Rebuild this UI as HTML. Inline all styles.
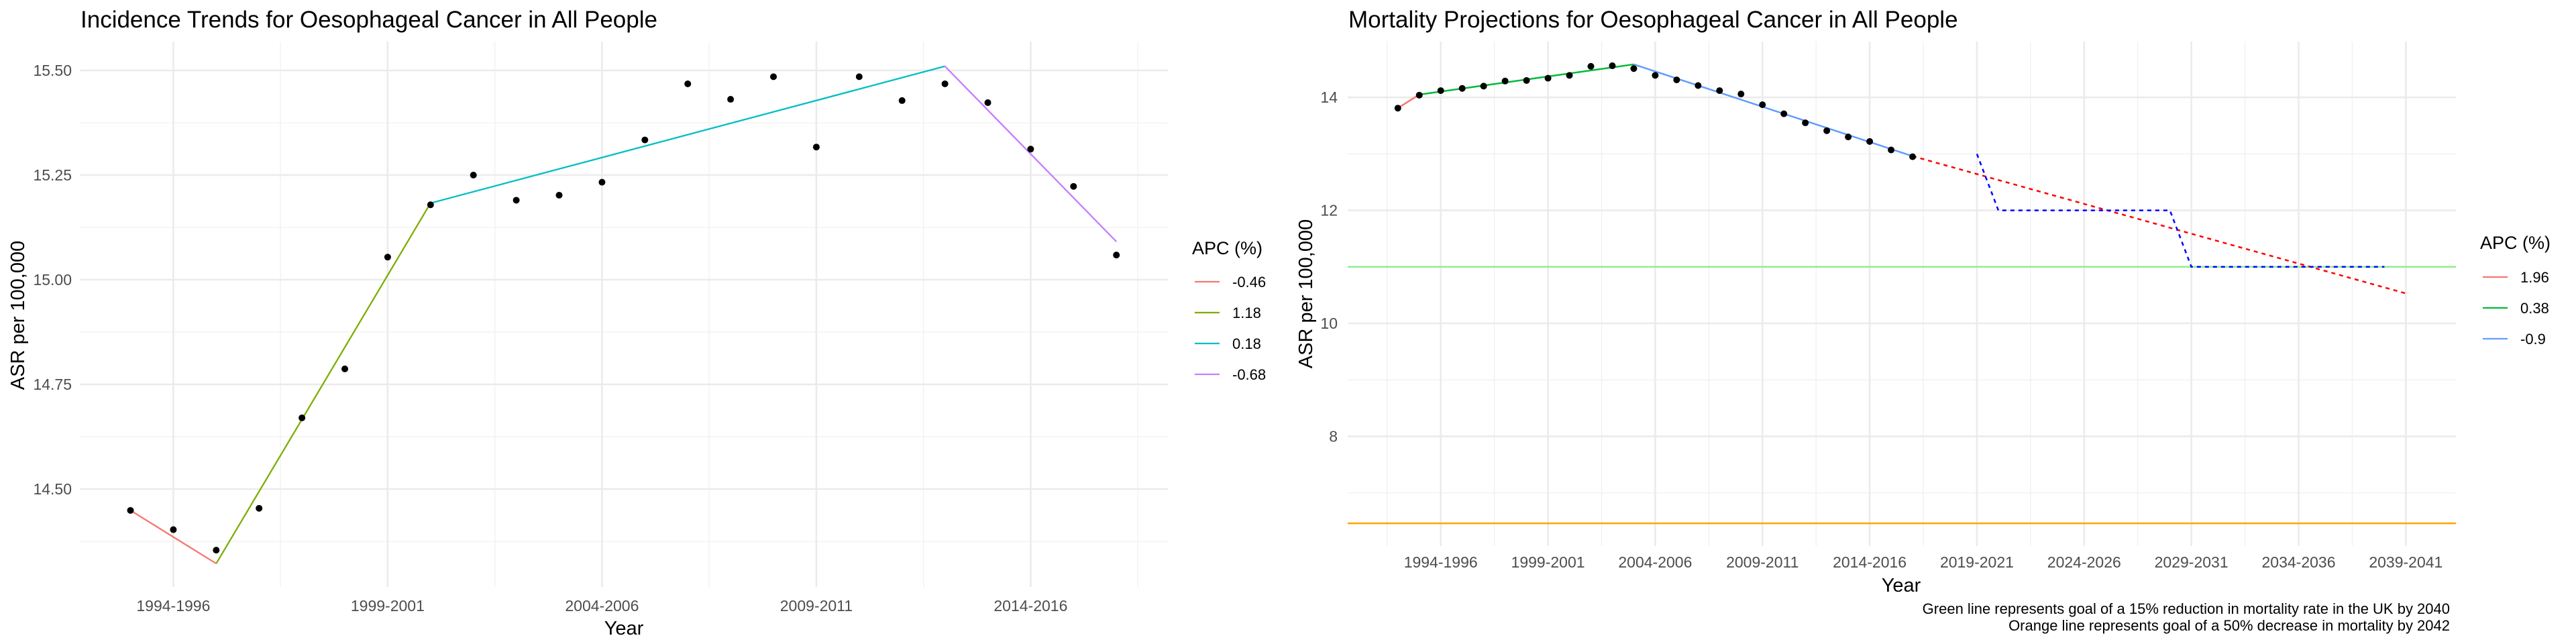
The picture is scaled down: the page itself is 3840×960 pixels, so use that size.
<!DOCTYPE html>
<html><head><meta charset="utf-8">
<style>
html,body{margin:0;padding:0;background:#fff;}
svg{display:block;font-family:"Liberation Sans",Arial,sans-serif;}
</style></head>
<body>
<svg id="chart" width="3840" height="960" viewBox="0 0 3840 960" xmlns="http://www.w3.org/2000/svg">
<rect width="3840" height="960" fill="#fff"/>
<g id="left"></g>
<g id="right"></g>
</svg>
<script>
// ---------- Incidence data ----------
const incStartYears = [1993,1994,1995,1996,1997,1998,1999,2000,2001,2002,2003,2004,2005,2006,2007,2008,2009,2010,2011,2012,2013,2014,2015,2016];
const incValues = [14.449,14.403,14.354,14.454,14.670,14.787,15.054,15.179,15.250,15.190,15.202,15.233,15.334,15.468,15.431,15.485,15.317,15.485,15.428,15.468,15.423,15.312,15.223,15.059];
const incFitYears = [1993,1995,2000,2012,2016];
const incFitValues = [14.449,14.322,15.183,15.510,15.091];
const incApcLabels = ["-0.46","1.18","0.18","-0.68"];
const incColors = ["#F8766D","#7CAE00","#00BFC4","#C77CFF"];
const incYTicks = [14.50,14.75,15.00,15.25,15.50];
const incXTicks = [1994,1999,2004,2009,2014];

// ---------- Mortality data ----------
const morYears = [1992,1993,1994,1995,1996,1997,1998,1999,2000,2001,2002,2003,2004,2005,2006,2007,2008,2009,2010,2011,2012,2013,2014,2015,2016];
const morValues = [13.81,14.04,14.12,14.16,14.20,14.29,14.30,14.34,14.39,14.55,14.56,14.51,14.39,14.31,14.21,14.12,14.06,13.87,13.71,13.55,13.41,13.30,13.22,13.07,12.95];
const morFitYears = [1992,1993,2003,2016];
const morFitValues = [13.81,14.05,14.585,12.96];
const morApcLabels = ["1.96","0.38","-0.9"];
const morColors = ["#F8766D","#00BA38","#619CFF"];
const projYears = [2016,2039];
const projValues = [12.96,10.53];
const targetYears = [2019,2020,2028,2029,2038];
const targetValues = [13.0,12.0,12.0,11.0,11.0];
const greenGoal = [11.0];
const orangeGoal = [6.46];
const morYTicks = [8,10,12,14];
const morXTicks = [1994,1999,2004,2009,2014,2019,2024,2029,2034,2039];

const NS = "http://www.w3.org/2000/svg";
function mk(parent, tag, attrs, text){
  const e = document.createElementNS(NS, tag);
  for (const k in attrs) e.setAttribute(k, attrs[k]);
  if (text !== undefined) e.textContent = text;
  parent.appendChild(e);
  return e;
}

// ---------- Left chart ----------
(function(){
  const g = document.getElementById('left');
  const L=119, R=1741, T=62, B=875;
  const x = yr => 194.5 + (yr-1993)*63.9;
  const y = v => 729 - (v-14.5)*624;
  // minor grid
  for (let v=14.375; v<15.6; v+=0.25){ const l=mk(g,'line',{x1:L,x2:R,y1:y(v),y2:y(v),stroke:'#f0f0f0','stroke-width':1.3});
    
     }
  for (let yr=1991.5; yr<2020; yr+=5){ if(x(yr)<L||x(yr)>R) continue; const l=mk(g,'line',{x1:x(yr),x2:x(yr),y1:T,y2:B,stroke:'#f0f0f0','stroke-width':1.3});
    
     }
  incYTicks.forEach(v=>{
    const l=mk(g,'line',{x1:L,x2:R,y1:y(v),y2:y(v),stroke:'#ebebeb','stroke-width':2.6});
    
    
    const t=mk(g,'text',{x:107,y:y(v)+8,'text-anchor':'end','font-size':23,fill:'#4d4d4d'},v.toFixed(2));
    
    
  });
  incXTicks.forEach(yr=>{
    const l=mk(g,'line',{x1:x(yr),x2:x(yr),y1:T,y2:B,stroke:'#ebebeb','stroke-width':2.6});
    
    
    const t=mk(g,'text',{x:x(yr),y:911,'text-anchor':'middle','font-size':23,fill:'#4d4d4d'},yr+'-'+(yr+2));
    
    
  });
  for (let i=0;i<incFitYears.length-1;i++){
    const l=mk(g,'line',{x1:x(incFitYears[i]),y1:y(incFitValues[i]),x2:x(incFitYears[i+1]),y2:y(incFitValues[i+1]),stroke:incColors[i],'stroke-width':2.3});
    
    
  }
  incStartYears.forEach((yr,i)=>{
    const c=mk(g,'circle',{cx:x(yr),cy:y(incValues[i]),r:5,fill:'#000'});
    
    
  });
  const ti=mk(g,'text',{x:120,y:41,'font-size':35,fill:'#000'},'Incidence Trends for Oesophageal Cancer in All People');
  
  
  const xt=mk(g,'text',{x:930,y:946,'text-anchor':'middle','font-size':29,fill:'#000'},'Year');
  
  
  const yt=mk(g,'text',{x:0,y:0,'text-anchor':'middle','font-size':29,fill:'#000',transform:'translate(36,470) rotate(-90)'},'ASR per 100,000');
  
  
  const lt=mk(g,'text',{x:1777,y:379,'font-size':27,fill:'#000'},'APC (%)');
  
  
  incApcLabels.forEach((lab,i)=>{
    const yy=420+i*46;
    const l=mk(g,'line',{x1:1781,x2:1818,y1:yy,y2:yy,stroke:incColors[i],'stroke-width':2.3});
    
    
    const t=mk(g,'text',{x:1837,y:yy+8,'font-size':22,fill:'#000'},lab);
    
    
  });
})();

// ---------- Right chart ----------
(function(){
  const g = document.getElementById('right');
  const L=2009, R=3661, T=62, B=814;
  const x = yr => 2147.7 + (yr-1994)*31.97;
  const y = v => 482 - (v-10)*84.2;
  for (let v=7; v<15; v+=2){ const l=mk(g,'line',{x1:L,x2:R,y1:y(v),y2:y(v),stroke:'#f0f0f0','stroke-width':1.3});
    
     }
  for (let yr=1991.5; yr<2043; yr+=5){ if(x(yr)<L||x(yr)>R) continue; const l=mk(g,'line',{x1:x(yr),x2:x(yr),y1:T,y2:B,stroke:'#f0f0f0','stroke-width':1.3});
    
     }
  morYTicks.forEach(v=>{
    const l=mk(g,'line',{x1:L,x2:R,y1:y(v),y2:y(v),stroke:'#ebebeb','stroke-width':2.6});
    
    
    const t=mk(g,'text',{x:1994,y:y(v)+8,'text-anchor':'end','font-size':23,fill:'#4d4d4d'},String(v));
    
    
  });
  morXTicks.forEach(yr=>{
    const l=mk(g,'line',{x1:x(yr),x2:x(yr),y1:T,y2:B,stroke:'#ebebeb','stroke-width':2.6});
    
    
    const t=mk(g,'text',{x:x(yr),y:846,'text-anchor':'middle','font-size':23,fill:'#4d4d4d'},yr+'-'+(yr+2));
    
    
  });
  const gl=mk(g,'line',{x1:L,x2:R,y1:y(greenGoal[0]),y2:y(greenGoal[0]),stroke:'#90EE90','stroke-width':2.5});
  
  
  const ol=mk(g,'line',{x1:L,x2:R,y1:y(orangeGoal[0]),y2:y(orangeGoal[0]),stroke:'#FFA500','stroke-width':2.5});
  
  
  for (let i=0;i<morFitYears.length-1;i++){
    const l=mk(g,'line',{x1:x(morFitYears[i]),y1:y(morFitValues[i]),x2:x(morFitYears[i+1]),y2:y(morFitValues[i+1]),stroke:morColors[i],'stroke-width':2.5});
    
    
  }
  const pp=mk(g,'polyline',{points:projYears.map((yr,i)=>x(yr)+','+y(projValues[i])).join(' '),fill:'none',stroke:'#FF0000','stroke-width':2.5,'stroke-dasharray':'6,6'});
  
  
  const tp=mk(g,'polyline',{points:targetYears.map((yr,i)=>x(yr)+','+y(targetValues[i])).join(' '),fill:'none',stroke:'#0000FF','stroke-width':2.5,'stroke-dasharray':'6,6'});
  
  
  morYears.forEach((yr,i)=>{
    const c=mk(g,'circle',{cx:x(yr),cy:y(morValues[i]),r:5,fill:'#000'});
    
    
  });
  const ti=mk(g,'text',{x:2010,y:41,'font-size':35,fill:'#000'},'Mortality Projections for Oesophageal Cancer in All People');
  
  
  const xt=mk(g,'text',{x:2834,y:882,'text-anchor':'middle','font-size':29,fill:'#000'},'Year');
  
  
  const yt=mk(g,'text',{x:0,y:0,'text-anchor':'middle','font-size':29,fill:'#000',transform:'translate(1956,438) rotate(-90)'},'ASR per 100,000');
  
  
  const lt=mk(g,'text',{x:3697,y:371,'font-size':27,fill:'#000'},'APC (%)');
  
  
  morApcLabels.forEach((lab,i)=>{
    const yy=413+i*46;
    const l=mk(g,'line',{x1:3701,x2:3738,y1:yy,y2:yy,stroke:morColors[i],'stroke-width':2.3});
    
    
    const t=mk(g,'text',{x:3757,y:yy+8,'font-size':22,fill:'#000'},lab);
    
    
  });
  const c1=mk(g,'text',{x:3652,y:915,'text-anchor':'end','font-size':22,fill:'#000'},'Green line represents goal of a 15% reduction in mortality rate in the UK by 2040');
  
  
  const c2=mk(g,'text',{x:3652,y:940,'text-anchor':'end','font-size':22,fill:'#000'},'Orange line represents goal of a 50% decrease in mortality by 2042');
  
  
})();
</script>
</body></html>
